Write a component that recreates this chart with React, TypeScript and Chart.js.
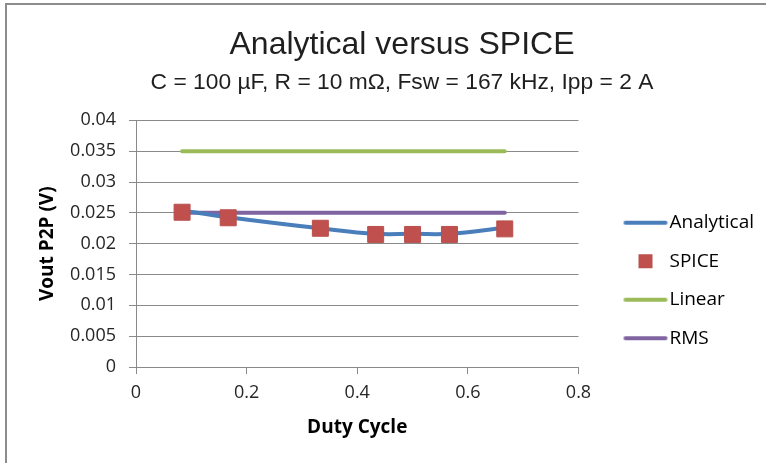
import React, { useEffect, useRef } from 'react';
import { Chart, registerables } from 'chart.js';

Chart.register(...registerables);

const dutyCycle = [0.0833, 0.1667, 0.3333, 0.4333, 0.5, 0.5667, 0.6667];
const analytical = [0.0254, 0.0243, 0.0225, 0.0216, 0.0216, 0.0216, 0.0226];
const spice = [0.0251, 0.0242, 0.0225, 0.0215, 0.0215, 0.0215, 0.0224];
const linear = [0.035, 0.035, 0.035, 0.035, 0.035, 0.035, 0.035];
const rms = [0.025, 0.025, 0.025, 0.025, 0.025, 0.025, 0.025];
const seriesNames = ['Analytical', 'SPICE', 'Linear', 'RMS'];
const xRange = [0, 0.8];
const xStep = 0.2;
const yRange = [0, 0.04];
const yStep = 0.005;
const titleText = 'Analytical versus SPICE';
const subtitleText = 'C = 100 µF, R = 10 mΩ, Fsw = 167 kHz, Ipp = 2 A';
const xTitle = 'Duty Cycle';
const yTitle = 'Vout P2P (V)';

const colors = ['#4A7EBB', '#C0504D', '#9BBB59', '#8064A2'];

const pts = (ys: number[]) => dutyCycle.map((x, i) => ({ x, y: ys[i] }));
const fmt = (v: number | string) => String(Number(Number(v).toFixed(4)));

function lineSymbol(color: string) {
  const c = document.createElement('canvas');
  c.width = 85;
  c.height = 10;
  const g = c.getContext('2d')!;
  g.strokeStyle = color;
  g.lineWidth = 4;
  g.lineCap = 'round';
  g.beginPath();
  g.moveTo(39, 5);
  g.lineTo(79, 5);
  g.stroke();
  return c;
}

function squareSymbol(color: string) {
  const c = document.createElement('canvas');
  c.width = 85;
  c.height = 16;
  const g = c.getContext('2d')!;
  g.fillStyle = color;
  g.fillRect(52, 1, 14, 14);
  g.strokeStyle = '#B9504C';
  g.lineWidth = 1;
  g.strokeRect(52.5, 1.5, 13, 13);
  return c;
}

export default function App() {
  const ref = useRef<HTMLCanvasElement>(null);

  useEffect(() => {
    if (!ref.current) return;
    const symbols = [
      lineSymbol(colors[0]),
      squareSymbol(colors[1]),
      lineSymbol(colors[2]),
      lineSymbol(colors[3]),
    ];
    const tickFont = { family: "'Open Sans', sans-serif", size: 18 };
    const axisTitleFont = { family: "'Open Sans', sans-serif", size: 19, weight: 'bold' as const };
    const gridColor = '#8a8a8a';

    const chart = new Chart(ref.current, {
      type: 'line',
      data: {
        datasets: [
          {
            label: seriesNames[0],
            data: pts(analytical),
            borderColor: colors[0],
            backgroundColor: colors[0],
            borderWidth: 4,
            pointRadius: 0,
            tension: 0.4,
            order: 1,
          },
          {
            label: seriesNames[1],
            data: pts(spice),
            showLine: false,
            pointStyle: 'rect',
            pointRadius: 11.3,
            pointBackgroundColor: colors[1],
            pointBorderColor: '#B9504C',
            pointBorderWidth: 1,
            borderColor: colors[1],
            backgroundColor: colors[1],
            order: 0,
          },
          {
            label: seriesNames[2],
            data: pts(linear),
            borderColor: colors[2],
            backgroundColor: colors[2],
            borderWidth: 4,
            borderCapStyle: 'round',
            pointRadius: 0,
            order: 3,
          },
          {
            label: seriesNames[3],
            data: pts(rms),
            borderColor: colors[3],
            backgroundColor: colors[3],
            borderWidth: 4,
            borderCapStyle: 'round',
            pointRadius: 0,
            order: 2,
          },
        ],
      },
      options: {
        responsive: false,
        animation: false,
        devicePixelRatio: 1,
        layout: { padding: { left: 49, right: 11, top: 0, bottom: 0 } },
        plugins: {
          title: {
            display: true,
            text: titleText,
            color: '#1f1f1f',
            font: { family: "'Liberation Sans', Arial, sans-serif", size: 32, weight: 'normal' },
            padding: { top: 26, bottom: 0 },
          },
          subtitle: {
            display: true,
            text: subtitleText,
            color: '#1f1f1f',
            font: { family: "'Liberation Sans', Arial, sans-serif", size: 22.8, weight: 'normal' },
            padding: { top: 5, bottom: 23.6 },
          },
          legend: {
            display: true,
            position: 'right',
            align: 'center',
            title: { display: true, text: ' ', font: { size: 10 }, padding: { top: 86, bottom: 0 } },
            labels: {
              usePointStyle: true,
              pointStyleWidth: 62,
              padding: 19.5,
              color: '#000',
              font: { family: "'Open Sans', sans-serif", size: 19 },
              generateLabels: (ch: any) =>
                ch.data.datasets.map((ds: any, i: number) => ({
                  text: ds.label,
                  pointStyle: symbols[i],
                  datasetIndex: i,
                  hidden: false,
                  fillStyle: 'rgba(0,0,0,0)',
                  strokeStyle: 'rgba(0,0,0,0)',
                  lineWidth: 0,
                  fontColor: '#000',
                })),
            },
          },
          tooltip: { enabled: false },
        },
        scales: {
          x: {
            type: 'linear',
            min: xRange[0],
            max: xRange[1],
            afterFit: (s: any) => {
              s.height = 96;
            },
            ticks: {
              stepSize: xStep,
              color: '#262626',
              font: tickFont,
              padding: 8,
              callback: (v: any) => fmt(v),
            },
            grid: {
              display: true,
              drawOnChartArea: false,
              drawTicks: true,
              tickLength: 7,
              color: gridColor,
            },
            border: { display: true, color: gridColor, width: 1 },
            title: {
              display: true,
              text: xTitle,
              color: '#000',
              font: axisTitleFont,
              padding: { top: 0, bottom: 23.6 },
            },
          },
          y: {
            type: 'linear',
            min: yRange[0],
            max: yRange[1],
            afterFit: (s: any) => {
              s.width = 87;
            },
            ticks: {
              stepSize: yStep,
              color: '#262626',
              font: tickFont,
              padding: 13,
              callback: (v: any) => fmt(v),
            },
            grid: {
              display: true,
              drawOnChartArea: true,
              drawTicks: true,
              tickLength: 7,
              color: gridColor,
            },
            border: { display: true, color: gridColor, width: 1 },
            title: {
              display: true,
              text: yTitle,
              color: '#000',
              font: axisTitleFont,
              padding: { top: -13, bottom: 0 },
            },
          },
        },
      },
    } as any);

    return () => chart.destroy();
  }, []);

  return (
    <div
      style={{
        position: 'absolute',
        left: 0,
        top: 0,
        width: 766,
        height: 463,
        overflow: 'hidden',
        background: '#fff',
      }}
    >
      <div
        style={{
          position: 'absolute',
          left: 5,
          top: 3,
          width: 820,
          height: 520,
          border: '2px solid #8c8c8c',
          boxSizing: 'border-box',
        }}
      />
      <canvas
        ref={ref}
        width={766}
        height={463}
        style={{ position: 'absolute', left: 0, top: 0, width: 766, height: 463 }}
      />
    </div>
  );
}
